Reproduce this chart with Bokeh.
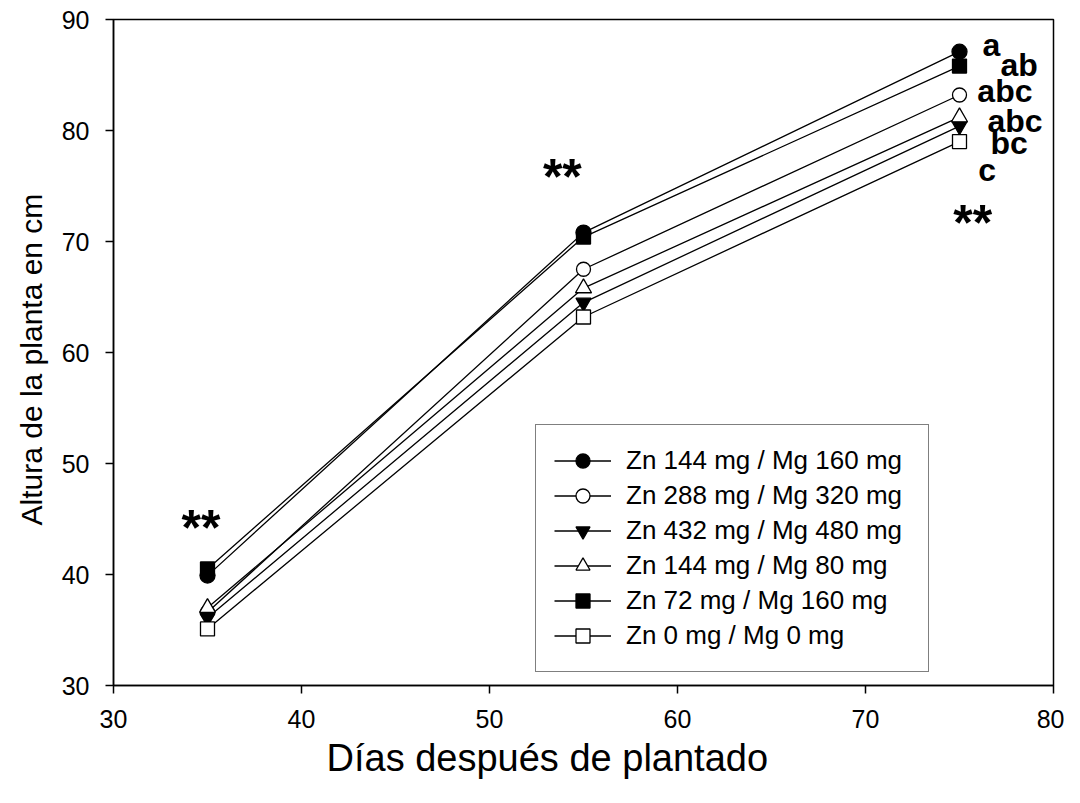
from bokeh.plotting import figure
from bokeh.embed import file_html
from bokeh.resources import INLINE
from bokeh.models import Legend, LegendItem, FixedTicker, Range1d, Title
from bokeh.core.properties import value

dias = [35, 55, 75]
labels = ["Zn 144 mg / Mg 160 mg", "Zn 288 mg / Mg 320 mg", "Zn 432 mg / Mg 480 mg",
          "Zn 144 mg / Mg 80 mg", "Zn 72 mg / Mg 160 mg", "Zn 0 mg / Mg 0 mg"]
zn144_mg160 = [39.9, 70.8, 87.1]
zn288_mg320 = [36.6, 67.5, 83.2]
zn432_mg480 = [36.1, 64.5, 80.4]
zn144_mg80 = [37.0, 65.8, 81.2]
zn72_mg160 = [40.5, 70.4, 85.8]
zn0_mg0 = [35.1, 63.2, 79.0]
series = [zn144_mg160, zn288_mg320, zn432_mg480, zn144_mg80, zn72_mg160, zn0_mg0]
markers = ["circle", "circle", "inverted_triangle", "triangle", "square", "square"]
fills = ["black", "white", "black", "white", "black", "white"]
sizes = [15, 14, 15, 16, 14, 14]

letras = ["a", "ab", "abc", "abc", "bc", "c"]
letras_x = [76.22, 77.18, 75.95, 76.49, 76.65, 76.0]
letras_y = [87.74, 85.94, 83.59, 80.88, 78.9, 76.46]

ast_text = ["**", "**", "**"]
ast_x = [33.62, 52.84, 74.67]
ast_y = [44.15, 75.8, 71.67]

x_ticks = [30, 40, 50, 60, 70, 80]
y_ticks = [30, 40, 50, 60, 70, 80, 90]

FONT = "Liberation Sans"

p = figure(width=1064, height=787, output_backend="svg", toolbar_location=None,
           x_range=Range1d(30, 80), y_range=Range1d(30, 90),
           min_border_left=113, min_border_right=11, min_border_top=19, min_border_bottom=102)
p.background_fill_color = "white"
p.border_fill_color = "white"
p.outline_line_color = "black"
p.outline_line_width = 1.5
p.xgrid.visible = False
p.ygrid.visible = False

for ax in (p.xaxis[0], p.yaxis[0]):
    ax.axis_line_width = 1.5
    ax.major_tick_line_width = 1.5
    ax.major_tick_in = 0
    ax.major_tick_out = 8
    ax.minor_tick_line_color = None
    ax.major_label_text_font = FONT
    ax.major_label_text_font_size = "25px"
    ax.major_label_text_color = "black"
    ax.axis_line_color = "black"
    ax.major_tick_line_color = "black"

p.xaxis.ticker = FixedTicker(ticks=x_ticks)
p.yaxis.ticker = FixedTicker(ticks=y_ticks)
p.xaxis.major_label_standoff = 16
p.yaxis.major_label_standoff = 16

ytitle = Title(text="Altura de la planta en cm", align="left", offset=160,
               vertical_align="top",
               text_font=FONT, text_font_size="30px", text_font_style="normal",
               text_color="black", standoff=18)
p.add_layout(ytitle, "left")

xtitle = Title(text="Días después de plantado", align="left", offset=213,
               text_font=FONT, text_font_size="38px", text_font_style="normal",
               text_color="black", standoff=8)
p.add_layout(xtitle, "below")

items = []
for vals, lab in zip(series, labels):
    r1 = p.line(dias, vals, line_color="black", line_width=1.3)
    items.append((lab, r1))
scatters = []
for vals, mk, fc, sz in zip(series, markers, fills, sizes):
    r2 = p.scatter(dias, vals, marker=mk, size=sz, fill_color=fc, line_color="black", line_width=1.3)
    scatters.append(r2)

legend = Legend(items=[LegendItem(label=lab, renderers=[r1, r2]) for (lab, r1), r2 in zip(items, scatters)],
                location=(422, 13))
legend.border_line_color = "black"
legend.border_line_width = 1.3
legend.background_fill_alpha = 1
legend.label_text_font = FONT
legend.label_text_font_size = "26px"
legend.label_text_color = "black"
legend.glyph_width = 57
legend.glyph_height = 35
legend.label_height = 35
legend.label_width = 284
legend.spacing = 0
legend.padding = 18
legend.margin = 0
legend.label_standoff = 15
p.add_layout(legend, "center")

p.text(letras_x, letras_y, text=letras, text_font=value(FONT), text_font_style="bold",
       text_font_size="32px", text_baseline="alphabetic", text_align="left", text_color="black")
p.text(ast_x, ast_y, text=ast_text, text_font=value(FONT), text_font_style="bold",
       text_font_size="50px", text_baseline="alphabetic", text_align="left", text_color="black")

open("out.html", "w").write(file_html(p, INLINE))
